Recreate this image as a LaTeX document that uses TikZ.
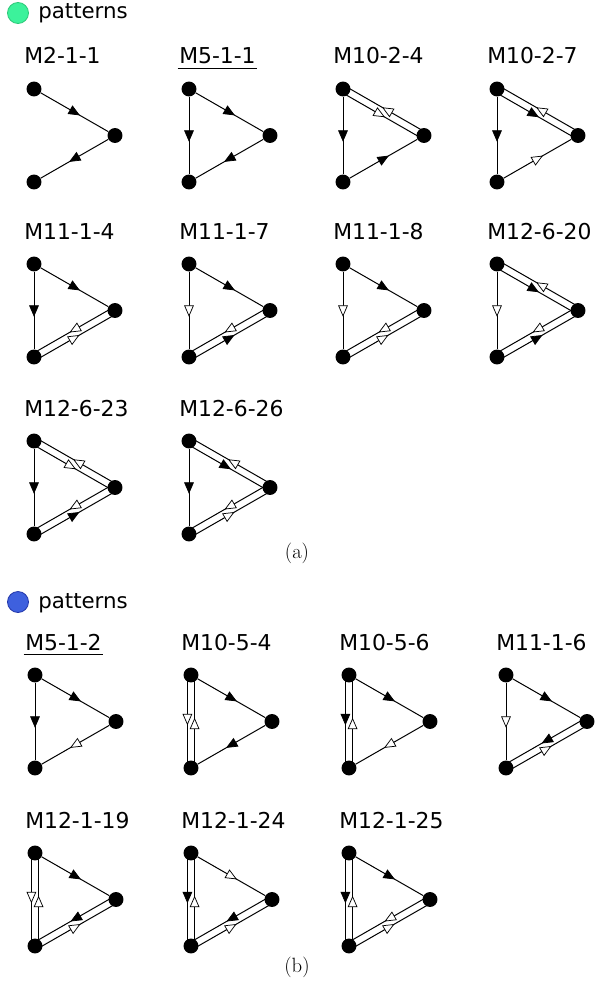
\documentclass[tikz,border=0pt]{standalone}
\usepackage{fontspec}
\newfontfamily\dejavu{DejaVu Sans}
\usetikzlibrary{calc,decorations.markings}
\definecolor{mint}{RGB}{60,242,155}
\definecolor{mintedge}{RGB}{45,200,120}
\definecolor{royal}{RGB}{62,96,222}
\definecolor{royaledge}{RGB}{35,55,170}
\tikzset{
  dot/.style={circle,fill=black,inner sep=0pt,minimum size=11.2pt},
  lbl/.style={anchor=base west,inner sep=0pt,font=\dejavu\fontsize{16.4}{18}\selectfont},
  hdr/.style={anchor=base west,inner sep=0pt,font=\dejavu\fontsize{16}{18}\selectfont},
  subcap/.style={inner sep=0pt,font=\fontsize{15.5}{17}\selectfont},
  mshift/.store in=\mshift, mshift=0pt,
  hfill/.store in=\hfillcol, hfill=black,
  lnk/.style={line width=0.75pt,postaction={decorate},
    decoration={markings,mark=at position 0.5 with
      {\filldraw[fill=\hfillcol,line width=0.55pt] (\mshift+4pt,0pt) -- (\mshift-3.6pt,3.3pt) -- (\mshift-3.6pt,-3.3pt) -- cycle;}}},
  fa/.style={lnk,hfill=black},
  oa/.style={lnk,hfill=white}
}
% one triangle: top, right and bottom node, and its name
\newcommand{\motif}[4]{%
  \node[dot] (#1t) at (#2,#3) {};
  \node[dot] (#1r) at (#2+81,#3+46.5) {};
  \node[dot] (#1d) at (#2,#3+93) {};
  \node[lbl] (#1l) at (#2-10,#3-25) {#4};}
% one of two opposite links, drawn on the right of its way
\newcommand{\twin}[3]{\draw[#1,mshift=-1.9pt] ($(#2)!2.7pt!-90:(#3)$) -- ($(#3)!2.7pt!90:(#2)$);}
\begin{document}
\begin{tikzpicture}[x=0.75pt,y=-0.75pt]
  \path[fill=white,use as bounding box] (0,0) rectangle (597,981);

  % (a)
  \filldraw[fill=mint,draw=mintedge,line width=0.6pt] (18,13) circle (10.5);
  \node[hdr] (pa) at (38,19) {patterns};

  \motif{A1}{34}{89}{M2-1-1}
  \draw[fa] (A1t) -- (A1r);
  \draw[fa] (A1r) -- (A1d);

  \motif{A2}{189}{89}{M5-1-1}
  \draw[line width=0.8pt] ([yshift=-3pt,xshift=-1pt]A2l.south west) -- ([yshift=-3pt,xshift=1pt]A2l.south east);
  \draw[fa] (A2t) -- (A2r);
  \draw[fa] (A2t) -- (A2d);
  \draw[fa] (A2r) -- (A2d);

  \motif{A3}{343}{89}{M10-2-4}
  \draw[fa] (A3t) -- (A3d);
  \twin{oa}{A3t}{A3r}
  \twin{oa}{A3r}{A3t}
  \draw[fa] (A3d) -- (A3r);

  \motif{A4}{497}{89}{M10-2-7}
  \draw[fa] (A4t) -- (A4d);
  \twin{fa}{A4t}{A4r}
  \twin{oa}{A4r}{A4t}
  \draw[oa] (A4d) -- (A4r);

  \motif{A5}{34}{264}{M11-1-4}
  \draw[fa] (A5t) -- (A5r);
  \draw[fa] (A5t) -- (A5d);
  \twin{oa}{A5r}{A5d}
  \twin{oa}{A5d}{A5r}

  \motif{A6}{189}{264}{M11-1-7}
  \draw[fa] (A6t) -- (A6r);
  \draw[oa] (A6t) -- (A6d);
  \twin{oa}{A6r}{A6d}
  \twin{fa}{A6d}{A6r}

  \motif{A7}{343}{264}{M11-1-8}
  \draw[fa] (A7t) -- (A7r);
  \draw[oa] (A7t) -- (A7d);
  \twin{oa}{A7r}{A7d}
  \twin{oa}{A7d}{A7r}

  \motif{A8}{497}{264}{M12-6-20}
  \twin{fa}{A8t}{A8r}
  \twin{oa}{A8r}{A8t}
  \draw[oa] (A8t) -- (A8d);
  \twin{oa}{A8r}{A8d}
  \twin{fa}{A8d}{A8r}

  \motif{A9}{34}{441}{M12-6-23}
  \twin{oa}{A9t}{A9r}
  \twin{oa}{A9r}{A9t}
  \draw[fa] (A9t) -- (A9d);
  \twin{oa}{A9r}{A9d}
  \twin{fa}{A9d}{A9r}

  \motif{A10}{189}{441}{M12-6-26}
  \twin{fa}{A10t}{A10r}
  \twin{oa}{A10r}{A10t}
  \draw[fa] (A10t) -- (A10d);
  \twin{oa}{A10r}{A10d}
  \twin{oa}{A10d}{A10r}

  \node[subcap] (capa) at (297,553) {(a)};

  % (b)
  \filldraw[fill=royal,draw=royaledge,line width=0.6pt] (18,602) circle (10.5);
  \node[hdr] (pb) at (38,608) {patterns};

  \motif{B1}{35}{675}{M5-1-2}
  \draw[line width=0.8pt] ([yshift=-3pt,xshift=-1pt]B1l.south west) -- ([yshift=-3pt,xshift=1pt]B1l.south east);
  \draw[fa] (B1t) -- (B1r);
  \draw[fa] (B1t) -- (B1d);
  \draw[oa] (B1r) -- (B1d);

  \motif{B2}{191}{675}{M10-5-4}
  \draw[fa] (B2t) -- (B2r);
  \twin{oa}{B2t}{B2d}
  \twin{oa}{B2d}{B2t}
  \draw[fa] (B2r) -- (B2d);

  \motif{B3}{349}{675}{M10-5-6}
  \draw[fa] (B3t) -- (B3r);
  \twin{fa}{B3t}{B3d}
  \twin{oa}{B3d}{B3t}
  \draw[oa] (B3r) -- (B3d);

  \motif{B4}{506}{675}{M11-1-6}
  \draw[fa] (B4t) -- (B4r);
  \draw[oa] (B4t) -- (B4d);
  \twin{fa}{B4r}{B4d}
  \twin{oa}{B4d}{B4r}

  \motif{B5}{35}{853}{M12-1-19}
  \draw[fa] (B5t) -- (B5r);
  \twin{oa}{B5t}{B5d}
  \twin{oa}{B5d}{B5t}
  \twin{fa}{B5r}{B5d}
  \twin{oa}{B5d}{B5r}

  \motif{B6}{191}{853}{M12-1-24}
  \draw[oa] (B6t) -- (B6r);
  \twin{fa}{B6t}{B6d}
  \twin{oa}{B6d}{B6t}
  \twin{fa}{B6r}{B6d}
  \twin{oa}{B6d}{B6r}

  \motif{B7}{349}{853}{M12-1-25}
  \draw[fa] (B7t) -- (B7r);
  \twin{fa}{B7t}{B7d}
  \twin{oa}{B7d}{B7t}
  \twin{oa}{B7r}{B7d}
  \twin{oa}{B7d}{B7r}

  \node[subcap] (capb) at (297,967) {(b)};
\end{tikzpicture}
\end{document}
